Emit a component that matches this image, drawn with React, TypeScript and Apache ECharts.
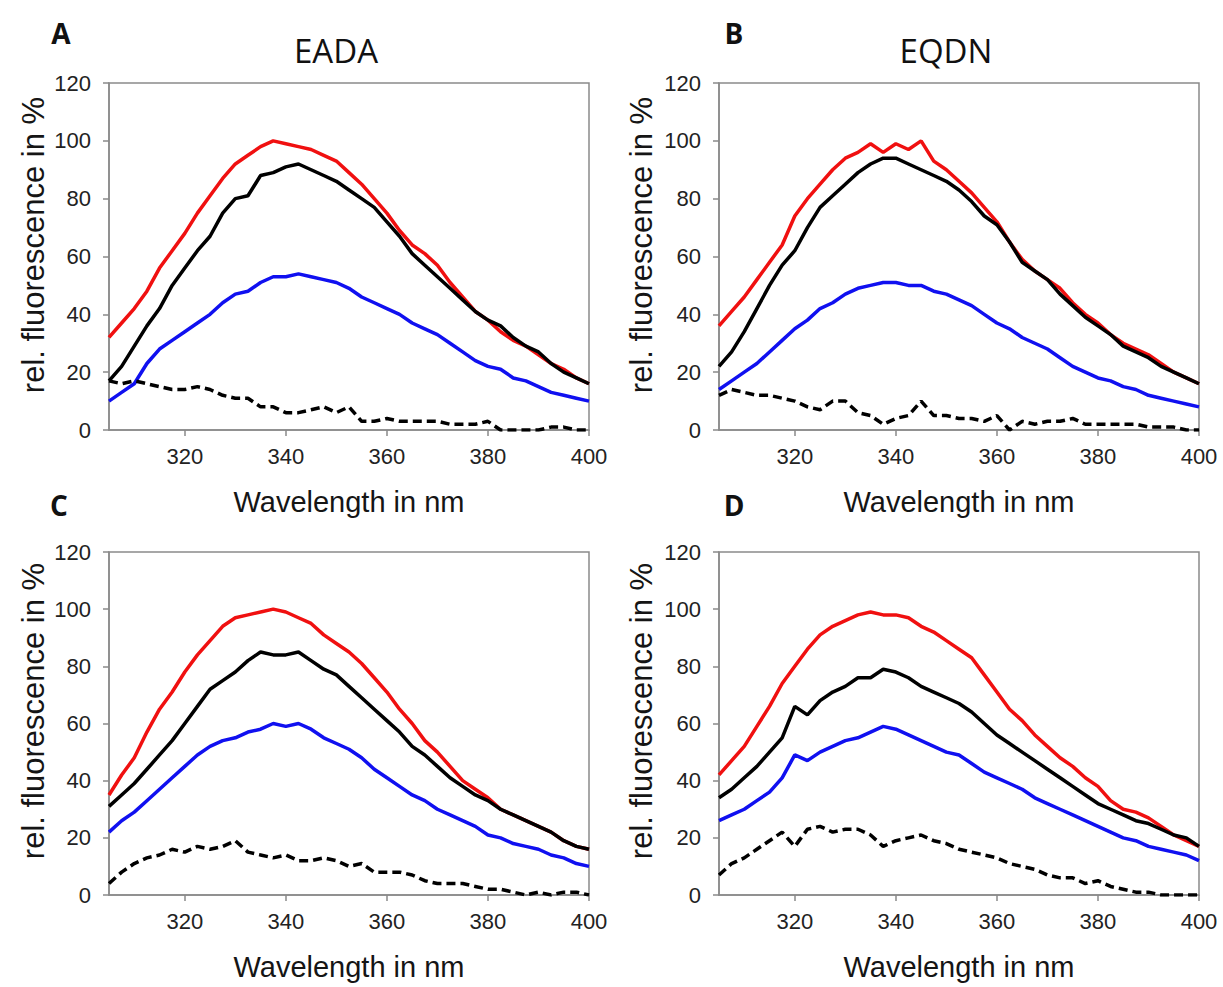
import React, { useEffect, useRef } from "react";
import * as echarts from "echarts";

// Wavelength grid (nm)
const wavelengths = [
  305, 307.5, 310, 312.5, 315, 317.5, 320, 322.5, 325, 327.5, 330, 332.5, 335, 337.5, 340, 342.5,
  345, 347.5, 350, 352.5, 355, 357.5, 360, 362.5, 365, 367.5, 370, 372.5, 375, 377.5, 380, 382.5,
  385, 387.5, 390, 392.5, 395, 397.5, 400,
];
const xTickValues = [320, 340, 360, 380, 400];

const panelLetters = ["A", "B", "C", "D"];
const panelTitles = ["EADA", "EQDN", "", ""];
const xAxisName = "Wavelength in nm";
const yAxisName = "rel. fluorescence in %";

// Panel A
const redA = [32, 37, 42, 48, 56, 62, 68, 75, 81, 87, 92, 95, 98, 100, 99, 98, 97, 95, 93, 89, 85, 80, 75, 69, 64, 61, 57, 51, 46, 41, 38, 34, 31, 29, 26, 23, 21, 18, 16];
const blackA = [17, 22, 29, 36, 42, 50, 56, 62, 67, 75, 80, 81, 88, 89, 91, 92, 90, 88, 86, 83, 80, 77, 72, 67, 61, 57, 53, 49, 45, 41, 38, 36, 32, 29, 27, 23, 20, 18, 16];
const blueA = [10, 13, 16, 23, 28, 31, 34, 37, 40, 44, 47, 48, 51, 53, 53, 54, 53, 52, 51, 49, 46, 44, 42, 40, 37, 35, 33, 30, 27, 24, 22, 21, 18, 17, 15, 13, 12, 11, 10];
const dashA = [17, 16, 17, 16, 15, 14, 14, 15, 14, 12, 11, 11, 8, 8, 6, 6, 7, 8, 6, 8, 3, 3, 4, 3, 3, 3, 3, 2, 2, 2, 3, 0, 0, 0, 0, 1, 1, 0, 0];

// Panel B
const redB = [36, 41, 46, 52, 58, 64, 74, 80, 85, 90, 94, 96, 99, 96, 99, 97, 100, 93, 90, 86, 82, 77, 72, 65, 59, 55, 52, 49, 44, 40, 37, 33, 30, 28, 26, 23, 20, 18, 16];
const blackB = [22, 27, 34, 42, 50, 57, 62, 70, 77, 81, 85, 89, 92, 94, 94, 92, 90, 88, 86, 83, 79, 74, 71, 65, 58, 55, 52, 47, 43, 39, 36, 33, 29, 27, 25, 22, 20, 18, 16];
const blueB = [14, 17, 20, 23, 27, 31, 35, 38, 42, 44, 47, 49, 50, 51, 51, 50, 50, 48, 47, 45, 43, 40, 37, 35, 32, 30, 28, 25, 22, 20, 18, 17, 15, 14, 12, 11, 10, 9, 8];
const dashB = [12, 14, 13, 12, 12, 11, 10, 8, 7, 10, 10, 6, 5, 2, 4, 5, 10, 5, 5, 4, 4, 3, 5, 0, 3, 2, 3, 3, 4, 2, 2, 2, 2, 2, 1, 1, 1, 0, 0];

// Panel C
const redC = [35, 42, 48, 57, 65, 71, 78, 84, 89, 94, 97, 98, 99, 100, 99, 97, 95, 91, 88, 85, 81, 76, 71, 65, 60, 54, 50, 45, 40, 37, 34, 30, 28, 26, 24, 22, 19, 17, 16];
const blackC = [31, 35, 39, 44, 49, 54, 60, 66, 72, 75, 78, 82, 85, 84, 84, 85, 82, 79, 77, 73, 69, 65, 61, 57, 52, 49, 45, 41, 38, 35, 33, 30, 28, 26, 24, 22, 19, 17, 16];
const blueC = [22, 26, 29, 33, 37, 41, 45, 49, 52, 54, 55, 57, 58, 60, 59, 60, 58, 55, 53, 51, 48, 44, 41, 38, 35, 33, 30, 28, 26, 24, 21, 20, 18, 17, 16, 14, 13, 11, 10];
const dashC = [4, 8, 11, 13, 14, 16, 15, 17, 16, 17, 19, 15, 14, 13, 14, 12, 12, 13, 12, 10, 11, 8, 8, 8, 7, 5, 4, 4, 4, 3, 2, 2, 1, 0, 1, 0, 1, 1, 0];

// Panel D
const redD = [42, 47, 52, 59, 66, 74, 80, 86, 91, 94, 96, 98, 99, 98, 98, 97, 94, 92, 89, 86, 83, 77, 71, 65, 61, 56, 52, 48, 45, 41, 38, 33, 30, 29, 27, 24, 21, 19, 17];
const blackD = [34, 37, 41, 45, 50, 55, 66, 63, 68, 71, 73, 76, 76, 79, 78, 76, 73, 71, 69, 67, 64, 60, 56, 53, 50, 47, 44, 41, 38, 35, 32, 30, 28, 26, 25, 23, 21, 20, 17];
const blueD = [26, 28, 30, 33, 36, 41, 49, 47, 50, 52, 54, 55, 57, 59, 58, 56, 54, 52, 50, 49, 46, 43, 41, 39, 37, 34, 32, 30, 28, 26, 24, 22, 20, 19, 17, 16, 15, 14, 12];
const dashD = [7, 11, 13, 16, 19, 22, 17, 23, 24, 22, 23, 23, 21, 17, 19, 20, 21, 19, 18, 16, 15, 14, 13, 11, 10, 9, 7, 6, 6, 4, 5, 3, 2, 1, 1, 0, 0, 0, 0];

const panels = [
  { red: redA, black: blackA, blue: blueA, dash: dashA },
  { red: redB, black: blackB, blue: blueB, dash: dashB },
  { red: redC, black: blackC, blue: blueC, dash: dashC },
  { red: redD, black: blackD, blue: blueD, dash: dashD },
];

const gridBoxes = [
  { left: 109, right: 634, top: 83, bottom: 557 },
  { left: 719, right: 24, top: 83, bottom: 557 },
  { left: 109, right: 634, top: 552, bottom: 92 },
  { left: 719, right: 24, top: 552, bottom: 92 },
];

const letterPos = [
  [61, 33],
  [734, 33],
  [59, 505],
  [734, 505],
];
const titlePos = [
  [336, 50],
  [946, 50],
];
const yNamePos = [
  [33, 245],
  [641, 245],
  [33, 711],
  [641, 711],
];

const FONT = "'Liberation Sans', Arial, sans-serif";
const TITLE_FONT = "'Open Sans', sans-serif";
const AXIS_GRAY = "#8a8a8a";

function toPairs(vals: number[]) {
  return wavelengths.map((w, i) => [w, vals[i]]);
}

export default function App() {
  const ref = useRef<HTMLDivElement>(null);

  useEffect(() => {
    if (!ref.current) return;
    const chart = echarts.init(ref.current, null, { renderer: "svg" });

    const grid = gridBoxes.map((g) => ({
      ...g,
      show: true,
      borderColor: AXIS_GRAY,
      borderWidth: 1.5,
      backgroundColor: "transparent",
    }));

    const xAxis = gridBoxes.map((_, i) => ({
      gridIndex: i,
      type: "value",
      min: 305,
      max: 400,
      name: xAxisName,
      nameLocation: "middle",
      nameGap: 57,
      nameTextStyle: { fontSize: 29, color: "#151515", fontFamily: FONT },
      axisLine: { show: true, lineStyle: { color: AXIS_GRAY, width: 1.5 } },
      axisTick: { show: true, length: 6, customValues: xTickValues, lineStyle: { color: AXIS_GRAY, width: 1.5 } },
      axisLabel: { customValues: xTickValues, fontSize: 22, color: "#222", fontFamily: FONT, margin: 15 },
      splitLine: { show: false },
    }));

    const yAxis = gridBoxes.map((_, i) => ({
      gridIndex: i,
      type: "value",
      min: 0,
      max: 120,
      interval: 20,
      axisLine: { show: true, lineStyle: { color: AXIS_GRAY, width: 1.5 } },
      axisTick: { show: true, length: 6, lineStyle: { color: AXIS_GRAY, width: 1.5 } },
      axisLabel: { fontSize: 22, color: "#222", fontFamily: FONT, margin: 18 },
      splitLine: { show: false },
    }));

    const series: any[] = [];
    panels.forEach((p, i) => {
      const base = {
        type: "line",
        xAxisIndex: i,
        yAxisIndex: i,
        showSymbol: false,
        symbol: "none",
        smooth: false,
      };
      series.push({ ...base, name: "red" + i, data: toPairs(p.red), lineStyle: { color: "#f01010", width: 3.5 } });
      series.push({ ...base, name: "blue" + i, data: toPairs(p.blue), lineStyle: { color: "#1010f0", width: 3.5 } });
      series.push({ ...base, name: "black" + i, data: toPairs(p.black), lineStyle: { color: "#000", width: 3.5 } });
      series.push({ ...base, name: "dash" + i, data: toPairs(p.dash), lineStyle: { color: "#000", width: 3.5, type: [9, 5] } });
    });

    const graphic: any[] = [];
    panelLetters.forEach((l, i) => {
      graphic.push({
        type: "text",
        x: letterPos[i][0],
        y: letterPos[i][1],
        style: {
          text: l,
          fontSize: 28,
          fontWeight: "bold",
          fontFamily: TITLE_FONT,
          fill: "#111",
          align: "center",
          verticalAlign: "middle",
        },
      });
    });
    panelTitles.forEach((t, i) => {
      if (!t) return;
      graphic.push({
        type: "text",
        x: titlePos[i][0],
        y: titlePos[i][1],
        style: {
          text: t,
          fontSize: 33,
          fontFamily: TITLE_FONT,
          fill: "#111",
          align: "center",
          verticalAlign: "middle",
        },
      });
    });
    yNamePos.forEach((pos) => {
      graphic.push({
        type: "text",
        x: pos[0],
        y: pos[1],
        rotation: Math.PI / 2,
        style: {
          text: yAxisName,
          fontSize: 31,
          fontFamily: FONT,
          fill: "#151515",
          align: "center",
          verticalAlign: "middle",
        },
      });
    });

    chart.setOption({
      animation: false,
      backgroundColor: "#fff",
      grid,
      xAxis,
      yAxis,
      series,
      graphic,
    });

    return () => chart.dispose();
  }, []);

  return <div ref={ref} style={{ position: "fixed", left: 0, top: 0, width: 1223, height: 987 }} />;
}
